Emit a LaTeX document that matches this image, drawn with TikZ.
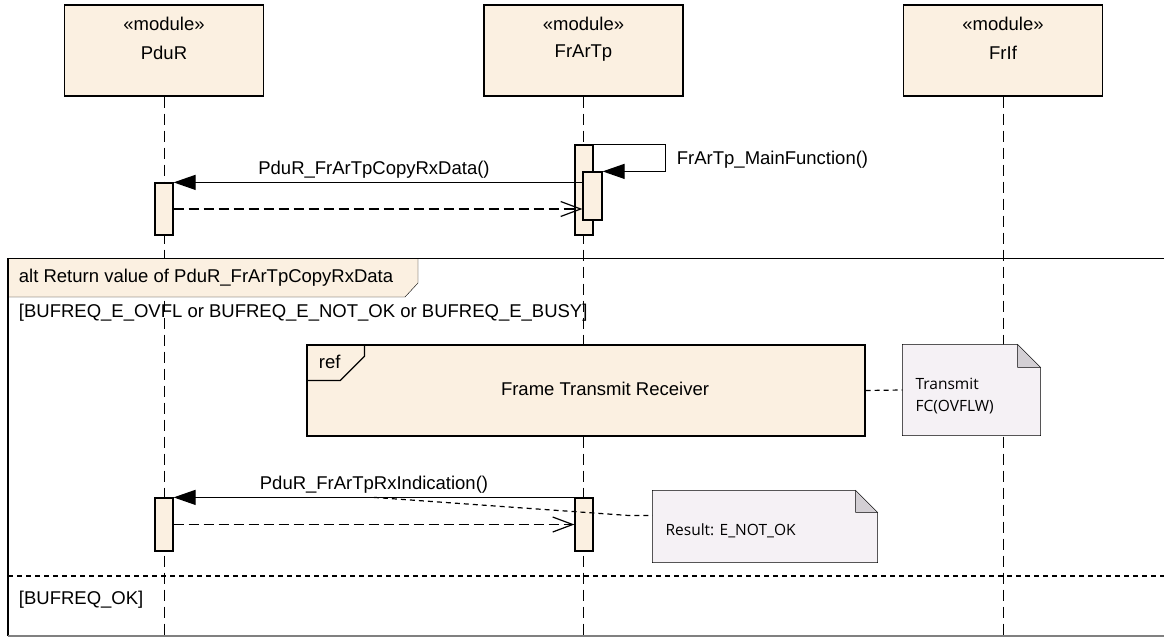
\documentclass[tikz,border=0pt]{standalone}
\usepackage{fontspec}
\setmainfont{Liberation Sans}
\newfontfamily\notefont{Open Sans}
\usetikzlibrary{arrows.meta,backgrounds}
\definecolor{modfill}{HTML}{FBF0E1}
\definecolor{notefill}{HTML}{F5F1F5}
\definecolor{foldfill}{HTML}{D3CFD4}
\begin{document}
\begin{tikzpicture}[x=1pt,y=-1pt,line width=1.2pt,
  font=\fontsize{18.5}{22}\selectfont,
  module/.style={draw,fill=modfill,minimum width=199pt,minimum height=91pt,inner sep=0pt},
  act/.style={draw,fill=modfill,minimum width=18pt,inner sep=0pt},
  lifeline/.style={dash pattern=on 11pt off 6pt},
  call/.style={-{Triangle[length=22pt,width=15pt]}},
  reply/.style={dash pattern=on 10pt off 5pt,-{Straight Barb[length=20pt,width=15pt]}},
  noteline/.style={dash pattern=on 5pt off 4pt},
  notetext/.style={font=\notefont\fontsize{15.5}{22}\selectfont,align=left,anchor=west,inner sep=0pt},
  blank/.style={inner sep=0pt}]
\useasboundingbox (0,0) rectangle (1164,639);
\coordinate (bot) at (0,639);
\coordinate (fr-nw) at (8,258.5);
\coordinate (fr-se) at (1170,636);
\coordinate (sep) at (0,576);
% lifelines
\foreach \x/\n/\t in {164/pdur/PduR,583.5/frartp/FrArTp,1003/frif/FrIf}{
  \node[module] (\n) at (\x,50.5) {};
  \node (\n-st) at (\x,24) {«module»};
  \node (\n-nm) at (\x,53) {\t};
}
\node[act,minimum height=52pt] (p1) at (164,209) {};
\node[act,minimum height=90pt] (f1) at (584,190) {};
\node[act,minimum width=19pt,minimum height=48pt] (f2) at (592.5,196) {};
\node[act,minimum height=53pt] (p2) at (164,524.5) {};
\node[act,minimum height=53pt] (f3) at (584,524.5) {};
% alt frame
\draw (fr-se -| fr-nw) -- (fr-nw) -- (fr-nw -| fr-se);
\draw[gray] (fr-se -| fr-nw) -- (fr-se);
\node[anchor=west] (alt) at (15,278) {alt Return value of PduR\_FrArTpCopyRxData};
\node[anchor=west] (g1) at (15,313) {[BUFREQ\_E\_OVFL or BUFREQ\_E\_NOT\_OK or BUFREQ\_E\_BUSY]};
\draw[noteline] (fr-nw |- sep) -- (fr-se |- sep);
\node[anchor=west] (g2) at (15,600) {[BUFREQ\_OK]};
% ref
\node[draw,fill=modfill,minimum width=558pt,minimum height=91pt,inner sep=0pt] (ref) at (586,390.5) {};
\draw ([yshift=-36pt]ref.north west) -- ++(34,0) -- ++(24,-24) -- ++(0,-12);
\node[anchor=west] (reftag) at (315,362) {ref};
\node (refnm) at (605,389) {Frame Transmit Receiver};
% notes
\node[blank,minimum width=137pt,minimum height=90pt] (note1) at (971.5,390) {};
\node[notetext] (n1) at (915,396) {Transmit\\FC(OVFLW)};
\node[blank,minimum width=224pt,minimum height=71pt] (note2) at (765,526.5) {};
\node[notetext] (n2) at (665,531) {Result: E\_NOT\_OK};
\draw[noteline] (ref.east) -- (note1.west);
% messages
\draw[call] (f1.north east) -- ++(72,0) -- ++(0,27) -- (f2.north east);
\node[anchor=west] (m0) at (673,160) {FrArTp\_MainFunction()};
\draw[call] (f2.west |- p1.north) -- (p1.north east);
\node (m1) at (374,170) {PduR\_FrArTpCopyRxData()};
\draw[reply] (p1.east) -- (p1.east -| f2.west);
\draw[call] (f3.north west) -- (p2.north east) coordinate[pos=.5] (m2mid);
\node (m2) at (374,485) {PduR\_FrArTpRxIndication()};
\draw[reply] (p2.east) -- (p2.east -| f3.west);
\draw[noteline] (m2mid) -- ([xshift=-25pt,yshift=-25pt]note2.north west) -- ([yshift=-25pt]note2.north west);
\begin{pgfonlayer}{background}
\fill[white] (0,0) rectangle (1164,639);
\foreach \n in {pdur,frartp,frif}
  \draw[lifeline] (\n.south) -- (\n.south |- bot);
\draw[fill=modfill] (fr-nw) -- (418,258.5) -- (418,283) -- (405,297) -- (8,297) -- cycle;
\foreach \n/\c in {note1/23,note2/22}{
  \draw[fill=notefill] (\n.north west) -- ([xshift=-\c pt]\n.north east) -- ([yshift=-\c pt]\n.north east) -- (\n.south east) -- (\n.south west) -- cycle;
  \draw[fill=foldfill] ([xshift=-\c pt]\n.north east) -- ([xshift=-\c pt,yshift=-\c pt]\n.north east) -- ([yshift=-\c pt]\n.north east) -- cycle;
}
\end{pgfonlayer}
\end{tikzpicture}
\end{document}
